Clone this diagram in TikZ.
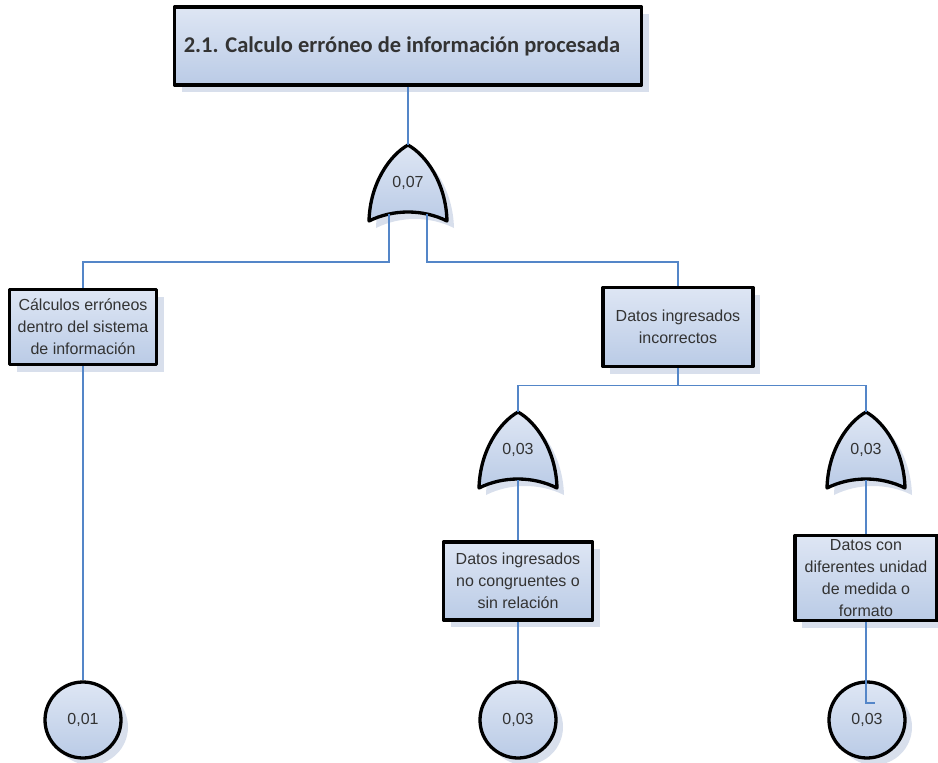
\documentclass[tikz,border=0pt]{standalone}
\usepackage{fontspec}
\setmainfont{Liberation Sans}
\newfontfamily\titlefont{Carlito}
\usetikzlibrary{positioning,shadows,calc}
\definecolor{boxtop}{RGB}{222,230,244}
\definecolor{boxbot}{RGB}{186,203,230}
\definecolor{shadowc}{RGB}{216,223,236}
\definecolor{linkblue}{RGB}{84,134,200}

\begin{document}
\begin{tikzpicture}[x=1pt, y=-1pt,
		every node/.style={font=\fontsize{16}{22}\selectfont, text=black!80},
		boxfill/.style={top color=boxtop, bottom color=boxbot, draw=black, line width=3.3pt, line join=round,
			drop shadow={shadow xshift=7pt, shadow yshift=-7pt, fill=shadowc, opacity=1}},
		event/.style={boxfill, rectangle, align=center, inner sep=0pt},
		basic/.style={boxfill, circle, minimum size=76pt, inner sep=0pt},
		link/.style={draw=linkblue, line width=1.3pt},
		pics/orgate/.style={code={
				\draw[boxfill] (0,-38) .. controls (-18,-28) and (-38,0) .. (-39,38)
				.. controls (-15,26) and (15,26) .. (39,38)
				.. controls (38,0) and (18,-28) .. (0,-38) -- cycle;
				\node (-c) at (0,0) {#1};
				\coordinate (-in) at (0,-38);
				\coordinate (-out) at (0,30);
				\coordinate (-outl) at (-19,31);
				\coordinate (-outr) at (19,31);
		}}
		]
		
		\useasboundingbox (0,0) rectangle (938,763);
		
		% Top event
		\node[event, minimum width=467pt, minimum height=78pt,
		font=\titlefont\bfseries\fontsize{22.5}{27}\selectfont] (top) at (408,46)
		{2.1. Calculo erróneo de información procesada\hspace*{12pt}};
		
		% Gates
		\pic (g1) at (408,183) {orgate={0,07}};
		\pic (g2) at (518,450) {orgate={0,03}};
		\pic (g3) at (866,450) {orgate={0,03}};
		
		% Intermediate events
		\node[event, minimum width=147pt, minimum height=75pt] (calc) at (83,327)
		{Cálculos erróneos\\dentro del sistema\\de información};
		\node[event, minimum width=150pt, minimum height=79pt] (datos) at (678,327)
		{Datos ingresados\\incorrectos};
		\node[event, minimum width=149pt, minimum height=78pt] (nocong) at (518,581)
		{Datos ingresados\\no congruentes o\\sin relación};
		\node[event, minimum width=142pt, minimum height=85pt] (formato) at (866,578)
		{Datos con\\diferentes unidad\\de medida o\\formato};
		
		% Basic events
		\node[basic] (b1) at (83,720) {0,01};
		\node[basic] (b2) at (518,720) {0,03};
		\node[basic] (b3) at (867,720) {0,03};
		
		% Connectors
		\draw[link] (top.south) -- (g1-in);
		\draw[link] (g1-outl) -- ++(0,48) -| (calc.north);
		\draw[link] (g1-outr) -- ++(0,48) -| (datos.north);
		\draw[link] (datos.south) -- ++(0,17) coordinate (split);
		\draw[link] (split) -| (g2-in);
		\draw[link] (split) -| (g3-in);
		\draw[link] (g2-out) -- (nocong.north);
		\draw[link] (g3-out) -- (formato.north);
		\draw[link] (calc.south) -- (b1.north);
		\draw[link] (nocong.south) -- (b2.north);
		\coordinate (hook) at ($(b3.center)+(8,-17)$);
		\draw[link] (formato.south) |- (hook);
		
	\end{tikzpicture}
\end{document}
